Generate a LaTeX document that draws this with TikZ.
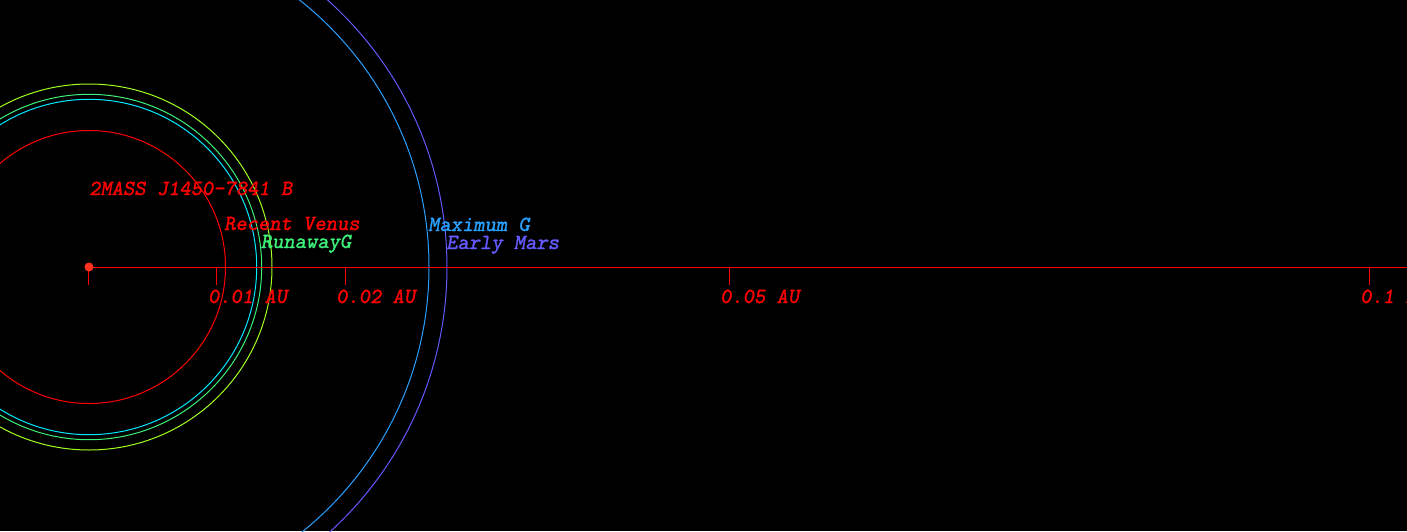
\documentclass[tikz,border=0pt]{standalone}
\usepackage{fontspec}
\newfontfamily\labelfont{lmmonoslant10-regular}[Extension=.otf, FakeBold=1.4]

\definecolor{orbred}{RGB}{255,0,0}
\definecolor{orbcyan}{RGB}{0,235,255}
\definecolor{orbgreen}{RGB}{60,240,120}
\definecolor{orblime}{RGB}{160,255,30}
\definecolor{orbsky}{RGB}{40,160,255}
\definecolor{orbviolet}{RGB}{100,90,255}
\definecolor{stardot}{RGB}{255,50,30}

\begin{document}
\begin{tikzpicture}[x=1pt,y=1pt]

% Define styles
\tikzstyle{orbit}=[line width=1pt]
\tikzstyle{axis}=[draw=orbred, line width=1pt]
\tikzstyle{label}=[font=\fontsize{21.5}{21.5}\labelfont, inner sep=0pt, anchor=base west]

% Parameters
\def\au{12800}   % pixels per AU
\def\ticklen{18}

% Background and frame
\fill[black] (-89,-264) rectangle (1318,267);
\clip (-89,-264) rectangle (1318,267);

\coordinate (star) at (0,0);
\coordinate (axisend) at (1318,0);
\coordinate (startick) at (0,-\ticklen);

% Habitable zone orbits
\foreach \r/\col in {136.5/orbred, 167.7/orbcyan, 172.7/orbgreen, 183/orblime, 340/orbsky, 358/orbviolet} {
  \draw[orbit, \col] (star) circle[radius=\r];
}

% Distance axis
\draw[axis] (star) -- (axisend);
\draw[axis] (star) -- (startick);

% Ticks and their labels
\foreach \n/\d in {1/0.01, 2/0.02, 5/0.05, 10/0.1} {
  \pgfmathsetmacro{\tx}{\d*\au}
  \coordinate (tick\n) at (\tx,0);
  \coordinate (tickend\n) at (\tx,-\ticklen);
  \draw[axis] (tick\n) -- (tickend\n);
  \node[label, orbred] (ticklbl\n) at ([xshift=-9pt,yshift=-36pt]tick\n) {\d{} AU};
}

% Star
\fill[stardot] (star) circle[radius=4.5];

% Labels
\node[label, orbred] (name) at (0,72) {2MASS J1450-7841 B};
\node[label, orbred] (venus) at (135,37) {Recent Venus};
\node[label, orbgreen] (runaway) at (171.7,19) {RunawayG};
\node[label, orbsky] (maxg) at (339,36) {Maximum G};
\node[label, orbviolet] (mars) at (357,18) {Early Mars};

\end{tikzpicture}
\end{document}
